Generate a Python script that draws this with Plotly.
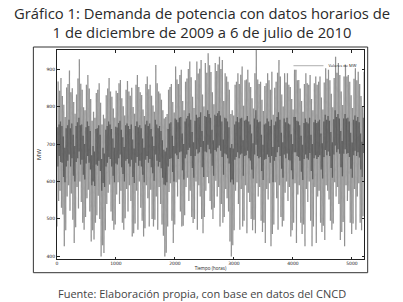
import plotly.graph_objects as go

# Daily shape of hourly demand (MW), day 0 = 1 Dec 2009 (Tuesday)
# night minimum, late-morning level, afternoon level, evening maximum
daily_min = [
    480, 548, 575, 530, 512, 427, 470,
    560, 590, 522, 568, 498, 436, 478,
    585, 528, 600, 545, 490, 471, 505,
    555, 578, 520, 440, 470, 445, 490,
    510, 562, 500, 400, 430, 409, 470,
    540, 570, 592, 520, 495, 471, 485,
    565, 598, 540, 575, 490, 471, 502,
    580, 520, 590, 548, 453, 462, 488,
    575, 471, 600, 530, 495, 453, 475,
    590, 555, 480, 578, 500, 480, 498,
    560, 471, 585, 540, 485, 455, 400,
    410, 480, 572, 595, 495, 436, 485,
    598, 560, 605, 520, 480, 482, 510,
    585, 610, 548, 575, 505, 489, 500,
    600, 471, 590, 560, 500, 462, 505,
    575, 612, 595, 548, 525, 500, 530,
    602, 560, 585, 480, 540, 490, 505,
    580, 555, 520, 440, 400, 430, 470,
    575, 598, 540, 471, 580, 480, 495,
    590, 462, 570, 545, 500, 470, 498,
    462, 595, 560, 585, 495, 465, 490,
    436, 580, 552, 595, 427, 460, 485,
    598, 555, 471, 590, 505, 480, 495,
    570, 600, 548, 585, 453, 470, 490,
    595, 436, 565, 590, 490, 460, 485,
    427, 580, 545, 600, 495, 427, 480,
    585, 436, 560, 575, 490, 465, 482,
    444, 590, 575, 552, 495, 471, 488,
    598, 560, 585, 540, 444, 465, 492,
    427, 590, 548, 575, 490, 460, 488,
    580, 471, 560, 595, 490, 470, 507,
]
daily_morning = [
    745, 752, 760, 748, 720, 690, 742,
    750, 765, 742, 755, 725, 695, 748,
    758, 770, 750, 752, 722, 700, 745,
    760, 748, 735, 670, 695, 680, 740,
    742, 750, 725, 660, 690, 675, 738,
    748, 760, 752, 740, 715, 690, 746,
    744, 756, 762, 738, 718, 692, 750,
    755, 748, 740, 752, 712, 688, 748,
    760, 745, 750, 742, 715, 690, 752,
    762, 748, 755, 740, 720, 695, 765,
    752, 742, 748, 735, 710, 685, 680,
    690, 740, 755, 758, 722, 695, 768,
    765, 758, 770, 772, 728, 700, 760,
    768, 775, 782, 765, 732, 705, 762,
    778, 770, 772, 785, 735, 708, 775,
    772, 790, 780, 770, 738, 710, 778,
    775, 782, 788, 776, 760, 712, 770,
    768, 760, 745, 690, 700, 688, 752,
    760, 772, 758, 768, 770, 710, 762,
    765, 775, 760, 752, 728, 702, 768,
    790, 765, 758, 760, 725, 698, 752,
    755, 768, 760, 748, 765, 692, 750,
    760, 772, 785, 765, 730, 705, 768,
    758, 770, 755, 752, 726, 700, 772,
    772, 762, 760, 750, 722, 698, 756,
    768, 758, 755, 770, 725, 700, 758,
    765, 756, 760, 765, 728, 702, 760,
    778, 765, 775, 762, 732, 705, 766,
    790, 772, 780, 768, 735, 708, 768,
    780, 768, 770, 760, 730, 704, 765,
    776, 762, 772, 758, 728, 706, 770,
]
daily_afternoon = [
    640, 668, 652, 650, 612, 598, 640,
    655, 672, 640, 662, 615, 600, 652,
    662, 680, 645, 658, 618, 605, 648,
    668, 650, 632, 590, 600, 588, 645,
    642, 655, 628, 575, 596, 585, 640,
    650, 665, 660, 640, 615, 598, 648,
    645, 662, 672, 638, 620, 600, 655,
    660, 648, 640, 658, 612, 596, 650,
    665, 642, 655, 640, 618, 598, 658,
    668, 650, 660, 638, 622, 602, 672,
    655, 640, 652, 635, 610, 592, 590,
    598, 640, 660, 662, 625, 600, 675,
    670, 660, 678, 680, 630, 605, 662,
    672, 684, 690, 668, 636, 610, 668,
    686, 675, 678, 692, 638, 612, 680,
    678, 698, 686, 675, 642, 615, 684,
    680, 690, 696, 682, 665, 618, 675,
    672, 662, 648, 598, 605, 592, 658,
    665, 678, 662, 672, 675, 615, 668,
    670, 682, 662, 656, 632, 608, 672,
    698, 668, 662, 665, 628, 604, 658,
    660, 672, 665, 650, 668, 598, 655,
    665, 678, 692, 668, 634, 610, 672,
    662, 675, 658, 656, 630, 606, 678,
    678, 668, 665, 655, 626, 604, 660,
    672, 662, 658, 676, 628, 606, 662,
    670, 660, 665, 670, 632, 608, 665,
    684, 670, 680, 668, 636, 610, 672,
    696, 678, 686, 674, 638, 614, 674,
    686, 674, 676, 665, 634, 610, 670,
    682, 668, 678, 664, 632, 612, 676,
]
daily_max = [
    867, 842, 876, 828, 805, 772, 851,
    860, 896, 838, 849, 812, 781, 832,
    875, 926, 861, 845, 798, 790, 858,
    884, 848, 820, 762, 786, 770, 836,
    845, 862, 810, 752, 778, 768, 830,
    848, 876, 840, 826, 795, 770, 842,
    836, 862, 871, 822, 801, 776, 845,
    868, 840, 829, 850, 799, 781, 858,
    884, 852, 838, 831, 792, 775, 860,
    880, 846, 858, 829, 803, 786, 911,
    862, 840, 835, 818, 790, 768, 772,
    780, 845, 852, 860, 812, 784, 907,
    872, 860, 884, 898, 815, 790, 866,
    875, 900, 920, 878, 826, 796, 870,
    920, 888, 901, 924, 832, 800, 916,
    890, 942, 910, 892, 838, 806, 916,
    895, 912, 933, 900, 924, 815, 889,
    880, 866, 845, 780, 790, 776, 858,
    866, 889, 860, 885, 907, 802, 870,
    872, 898, 864, 852, 822, 795, 889,
    951, 872, 860, 866, 818, 788, 855,
    862, 889, 870, 845, 893, 778, 850,
    866, 890, 924, 880, 832, 800, 889,
    864, 889, 858, 852, 820, 792, 898,
    898, 870, 871, 848, 815, 786, 860,
    889, 862, 858, 884, 820, 790, 862,
    880, 858, 866, 880, 824, 792, 864,
    902, 874, 898, 870, 834, 798, 876,
    933, 890, 916, 884, 840, 804, 880,
    911, 880, 884, 866, 830, 796, 874,
    902, 870, 893, 860, 828, 800, 893,
]
# hour of the day at which each of the four values occurs
HOURS = [4, 11, 15, 19]

x_ticks = [0, 1000, 2000, 3000, 4000, 5000]
y_ticks = [400, 500, 600, 700, 800, 900]

profiles = [daily_min, daily_morning, daily_afternoon, daily_max]
n = len(daily_max)

# hourly-ordered polyline, split into its four kinds of stretch so that
# overlapping stretches of neighbouring days darken like the original
segments = [[[], []] for _ in range(4)]
for d in range(n):
    for k in range(4):
        if k < 3:
            x0, y0 = 24 * d + HOURS[k], profiles[k][d]
            x1, y1 = 24 * d + HOURS[k + 1], profiles[k + 1][d]
        else:
            if d + 1 >= n:
                continue
            x0, y0 = 24 * d + HOURS[3], daily_max[d]
            x1, y1 = 24 * (d + 1) + HOURS[0], daily_min[d + 1]
        segments[k][0] += [x0, x1, None]
        segments[k][1] += [y0, y1, None]

LINE = dict(color="rgba(25,25,25,0.28)", width=1.2)

fig = go.Figure()
for k in range(4):
    fig.add_trace(go.Scatter(
        x=segments[k][0], y=segments[k][1], mode="lines", line=LINE,
        connectgaps=False, name="Valores de MW", showlegend=(k == 0),
        legendgroup="mw", hoverinfo="skip"))

axis_common = dict(
    showgrid=False, zeroline=False, showline=True, linecolor="#222",
    linewidth=1, mirror="ticks", ticks="inside", ticklen=2.5,
    tickcolor="#222", tickfont=dict(size=4.5, color="#222", family="DejaVu Sans"),
)
fig.update_xaxes(range=[0, 5205], tickvals=x_ticks,
                 title=dict(text="Tiempo (horas)", font=dict(size=4.5, color="#222"), standoff=1),
                 **axis_common)
fig.update_yaxes(range=[393, 951], tickvals=y_ticks,
                 title=dict(text="MW", font=dict(size=6, color="#222"), standoff=4),
                 **axis_common)

fig.add_shape(type="rect", xref="paper", yref="paper",
              x0=-0.077, x1=1.012, y0=-0.0655, y1=1.0143,
              line=dict(color="#333", width=1), fillcolor="rgba(0,0,0,0)")

fig.add_annotation(text="Gráfico 1: Demanda de potencia con datos horarios de<br>1 de diciembre de 2009 a 6 de julio de 2010",
                   xref="paper", yref="paper", x=0.4707, y=1.0, yshift=49,
                   xanchor="center", yanchor="top", showarrow=False,
                   font=dict(size=14.8, color="#2a2a2a", family="Open Sans"),
                   align="center")
fig.add_annotation(text="Fuente: Elaboración propia, con base en datos del CNCD",
                   xref="paper", yref="paper", x=0.4707, y=0, yshift=-25,
                   xanchor="center", yanchor="top", showarrow=False,
                   font=dict(size=11, color="#444", family="Open Sans"))

fig.update_layout(
    width=403, height=302,
    margin=dict(l=56.7, r=38.7, t=50, b=42.7, autoexpand=False),
    paper_bgcolor="white", plot_bgcolor="white",
    showlegend=True,
    legend=dict(x=0.995, y=0.995, xanchor="right", yanchor="top",
                bgcolor="rgba(255,255,255,0)", font=dict(size=4, color="#222"),
                itemwidth=30, tracegroupgap=0),
)

fig.write_html("out.html", config={"displayModeBar": False},
               post_script="document.body.style.margin='0';document.body.style.padding='0';")
